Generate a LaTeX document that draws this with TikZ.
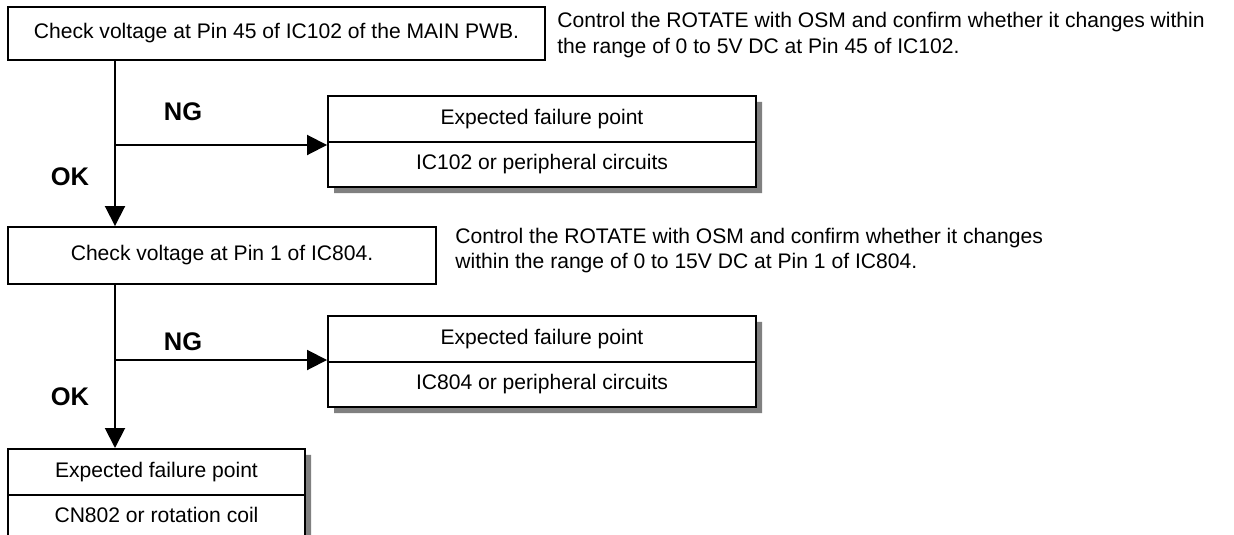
\documentclass[tikz,border=0pt]{standalone}
\usepackage{fontspec}
\setmainfont{Liberation Sans}
\usetikzlibrary{arrows.meta,shapes.multipart,shadows}

\begin{document}
\begin{tikzpicture}[
    >={Triangle[length=0.4cm,width=0.4cm]},
    font=\fontsize{12}{14.8}\selectfont,
    box/.style={draw,line width=1.1pt,minimum height=1.06cm,inner sep=0pt},
    fail/.style={rectangle split,rectangle split parts=2,draw,line width=1.1pt,
        fill=white,minimum width=8.56cm,inner ysep=0.24cm,anchor=north,
        drop shadow={shadow xshift=0.12cm,shadow yshift=-0.12cm,
            fill=black!50,opacity=1}},
    flow/.style={->,line width=1.1pt},
    lbl/.style={font=\fontsize{14.5}{16}\selectfont\bfseries},
    note/.style={anchor=west,align=left,inner sep=0pt},
]
\clip (0,0) rectangle (24.68,-10.68);

% First check
\node[box,minimum width=10.74cm] (chk1) at (5.53,-0.67)
    {Check voltage at Pin 45 of IC102 of the MAIN PWB.};
\node[note] (note1) at (11.14,-0.7)
    {Control the ROTATE with OSM and confirm whether it changes within\\
     the range of 0 to 5V DC at Pin 45 of IC102.};

% Second check
\node[box,minimum width=8.56cm,minimum height=1.14cm] (chk2) at (4.44,-5.11)
    {Check voltage at Pin 1 of IC804.};
\node[note,font=\fontsize{12}{14.2}\selectfont] (note2) at (9.1,-5.01)
    {Control the ROTATE with OSM and confirm whether it changes\\
     within the range of 0 to 15V DC at Pin 1 of IC804.};

% Failure points
\node[fail] (fail1) at (10.84,-1.9)
    {Expected failure point\nodepart{two}IC102 or peripheral circuits};
\node[fail] (fail2) at (10.84,-6.3)
    {Expected failure point\nodepart{two}IC804 or peripheral circuits};
\node[fail,minimum width=5.94cm] (res) at (3.13,-8.96)
    {Expected failure point\nodepart{two}CN802 or rotation coil};

% Branches
\coordinate (ng1) at (2.3,-2.9);
\coordinate (ng2) at (2.3,-7.2);

\draw[flow] (chk1.south -| ng1) -- (chk2.north -| ng1);
\draw[flow] (ng1) -- (ng1 -| fail1.west);
\draw[flow] (chk2.south -| ng2) -- (res.north -| ng2);
\draw[flow] (ng2) -- (ng2 -| fail2.west);

\node[lbl] (ng1lbl) at (3.66,-2.24) {NG};
\node[lbl] (ok1lbl) at (1.4,-3.54) {OK};
\node[lbl] (ng2lbl) at (3.66,-6.84) {NG};
\node[lbl] (ok2lbl) at (1.4,-7.94) {OK};
\end{tikzpicture}
\end{document}
